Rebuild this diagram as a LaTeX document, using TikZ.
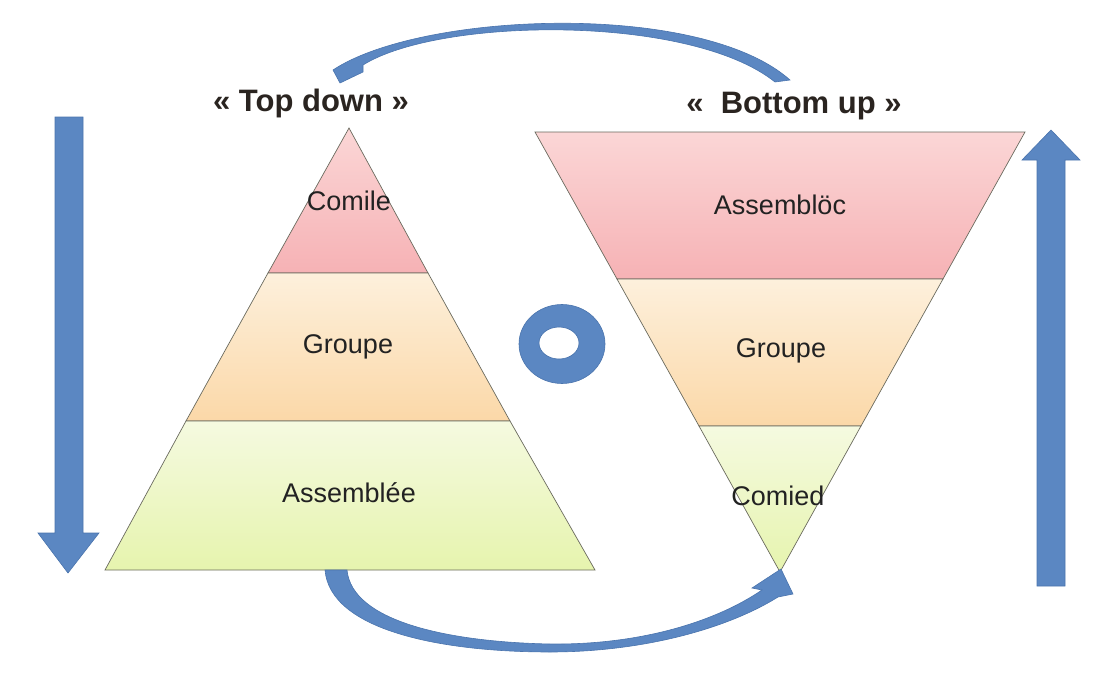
\documentclass[tikz,border=0pt]{standalone}
\usepackage{fontspec}
\setmainfont{Liberation Sans}
\usetikzlibrary{positioning}

\definecolor{arrowblue}{HTML}{5B87C2}
\definecolor{arrowedge}{HTML}{4A74AD}
\definecolor{bandline}{HTML}{6A6A5E}
\definecolor{labeltext}{HTML}{222222}
\definecolor{titletext}{HTML}{2A2420}
\definecolor{pinktop}{HTML}{FBD6D6}
\definecolor{pinkbot}{HTML}{F6B2B5}
\definecolor{orangetop}{HTML}{FDF0DC}
\definecolor{orangebot}{HTML}{FBD8A8}
\definecolor{greentop}{HTML}{F5FAE0}
\definecolor{greenbot}{HTML}{E6F4AE}

\tikzset{
  band/.style={draw=bandline, line width=0.7pt},
  lbl/.style={font=\fontsize{27}{32}\selectfont, text=labeltext, inner sep=0pt},
  ttl/.style={font=\bfseries\fontsize{31}{36}\selectfont, text=titletext, inner sep=0pt},
  bluearrow/.style={fill=arrowblue, draw=arrowedge, line width=0.6pt},
}

\begin{document}
\begin{tikzpicture}[x=1pt, y=-1pt]
\useasboundingbox (0,0) rectangle (1104,696);

% left pyramid
\path[band, top color=pinktop, bottom color=pinkbot] (349,128) -- (428,273) -- (268,273) -- cycle;
\path[band, top color=orangetop, bottom color=orangebot] (268,273) -- (428,273) -- (510,421) -- (186,421) -- cycle;
\path[band, top color=greentop, bottom color=greenbot] (186,421) -- (510,421) -- (595,570) -- (105,570) -- cycle;

		\node[lbl] (lcom) at (349,201) {Comile};
		\node[lbl] (lgrp) at (348,347) {Groupe};
		\node[lbl] (lass) at (349,493) {Assemblée};

% right pyramid
\path[band, top color=pinktop, bottom color=pinkbot] (535,132) -- (1025,132) -- (943,279) -- (617,279) -- cycle;
\path[band, top color=orangetop, bottom color=orangebot] (617,279) -- (943,279) -- (861,426) -- (699,426) -- cycle;
\path[band, top color=greentop, bottom color=greenbot] (699,426) -- (861,426) -- (780,572) -- cycle;

		\node[lbl] (rass) at (780,205) {Assemblöc};
		\node[lbl] (rgrp) at (781,351) {Groupe};
		\node[lbl] (rcom) at (778,496) {Comied};

% titles
		\node[ttl] (tdown) at (311,103) {« Top down »};
		\node[ttl] (bup) at (794,106) {«~ Bottom up »};

% straight arrows
\path[bluearrow] (55,117) -- (83,117) -- (83,533) -- (99,533) -- (68,573) -- (38,533) -- (55,533) -- cycle;
\path[bluearrow] (1037,586) -- (1065,586) -- (1065,160) -- (1080,160) -- (1051,130) -- (1022,160) -- (1037,160) -- cycle;

% ring
\path[bluearrow, even odd rule] (562,344) ellipse [x radius=43, y radius=39.5]
      (559,343) ellipse [x radius=20, y radius=16];

% curved arrows
\path[bluearrow] (333,70) .. controls (420,12) and (700,0) .. (790,80) -- (775,82)
      .. controls (690,14) and (440,17) .. (363,65) -- (363,72) -- (340,83) -- cycle;
\path[bluearrow] (325,570) -- (347,570) .. controls (352,622) and (450,642) .. (550,644)
      .. controls (640,645) and (715,622) .. (762,590) -- (752,588) -- (781,569) -- (793,594) -- (778,597)
      .. controls (725,630) and (640,652) .. (550,652) .. controls (440,652) and (330,630) .. (325,570) -- cycle;
\end{tikzpicture}
\end{document}
